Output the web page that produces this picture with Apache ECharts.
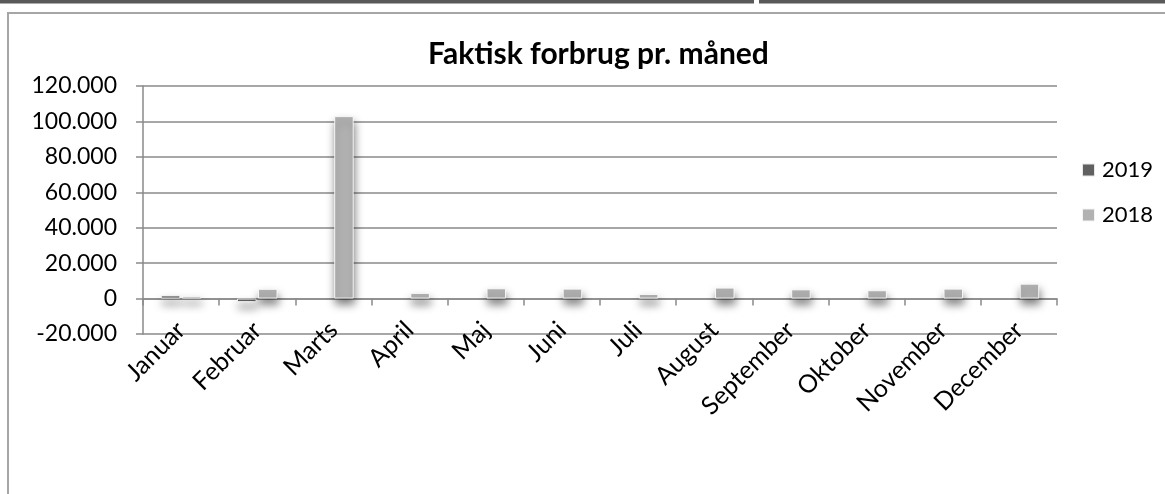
<!DOCTYPE html>
<html>
<head>
<meta charset="utf-8">
<script src="https://cdn.jsdelivr.net/npm/echarts@6/dist/echarts.min.js"></script>
<style>
  html, body { margin: 0; padding: 0; background: #fff; }
  #chart { width: 1165px; height: 494px; }
</style>
</head>
<body>
<div id="chart"></div>
<script>
const months = ['Januar', 'Februar', 'Marts', 'April', 'Maj', 'Juni', 'Juli', 'August', 'September', 'Oktober', 'November', 'December'];
const values2019 = [1800, -2000, null, null, null, null, null, null, null, null, null, null];
const values2018 = [1500, 5500, 103000, 3200, 5800, 5600, 2600, 6200, 5200, 4700, 5600, 8400];
const yMin = -20000;
const yMax = 120000;
const yStep = 20000;

function formatDa(v) {
    // danish thousands separator
    const s = String(Math.abs(v)).replace(/\B(?=(\d{3})+(?!\d))/g, '.');
    return (v < 0 ? '-' : '') + s;
}

const font = 'Lato';
const gridColor = '#8a8a8a';

const barStyle = (color) => ({
    color: color,
    borderColor: 'rgba(255,255,255,0.85)',
    borderWidth: 1,
    shadowColor: 'rgba(0,0,0,0.5)',
    shadowBlur: 8,
    shadowOffsetX: 1,
    shadowOffsetY: 6
});

const option = {
    animation: false,
    backgroundColor: '#fff',
    textStyle: { fontFamily: font, color: '#000' },
    title: {
        text: 'Faktisk forbrug pr. måned',
        left: 428,
        top: 39,
        padding: 0,
        textStyle: { fontFamily: font, fontSize: 30, fontWeight: 'bold', color: '#000' }
    },
    legend: {
        orient: 'vertical',
        left: 1081,
        top: 159,
        padding: 0,
        itemWidth: 13,
        itemHeight: 13,
        itemGap: 23,
        icon: 'rect',
        textStyle: { fontFamily: font, fontSize: 22, lineHeight: 22, color: '#000', padding: [0, 0, 0, 2] },
        data: ['2019', '2018']
    },
    graphic: [
        { type: 'rect', shape: { x: 0, y: 0, width: 754, height: 3.5 }, style: { fill: '#595959' } },
        { type: 'rect', shape: { x: 759, y: 0, width: 406, height: 3.5 }, style: { fill: '#595959' } },
        { type: 'line', shape: { x1: 7, y1: 13, x2: 1165, y2: 13 }, style: { stroke: '#a6a6a6', lineWidth: 2 } },
        { type: 'line', shape: { x1: 8, y1: 13, x2: 8, y2: 494 }, style: { stroke: '#a6a6a6', lineWidth: 2 } }
    ],
    grid: {
        left: 143,
        right: 108,
        top: 86,
        height: 248,
        containLabel: false
    },
    xAxis: {
        type: 'category',
        data: months,
        axisLine: { onZero: true, lineStyle: { color: gridColor, width: 1.5 } },
        axisTick: { show: true, length: 7, alignWithLabel: false, lineStyle: { color: gridColor, width: 1.5 } },
        axisLabel: {
            rotate: 45,
            margin: -8,
            interval: 0,
            fontFamily: font,
            fontSize: 25,
            color: '#000'
        },
        splitLine: { show: false }
    },
    yAxis: {
        type: 'value',
        min: yMin,
        max: yMax,
        interval: yStep,
        axisLine: { show: true, lineStyle: { color: gridColor, width: 1.5 } },
        axisTick: { show: true, length: 7, lineStyle: { color: gridColor, width: 1.5 } },
        axisLabel: {
            margin: 26,
            fontFamily: font,
            fontSize: 23,
            color: '#000',
            formatter: formatDa
        },
        splitLine: { show: true, lineStyle: { color: gridColor, width: 1.5 } }
    },
    series: [
        {
            name: '2019',
            type: 'bar',
            data: values2019,
            barWidth: 19.5,
            barGap: '8%',
            itemStyle: barStyle('#606060')
        },
        {
            name: '2018',
            type: 'bar',
            data: values2018,
            barWidth: 19.5,
            barGap: '8%',
            itemStyle: barStyle('#b2b2b2')
        }
    ]
};

const chart = echarts.init(document.getElementById('chart'));
chart.setOption(option);
</script>
</body>
</html>
